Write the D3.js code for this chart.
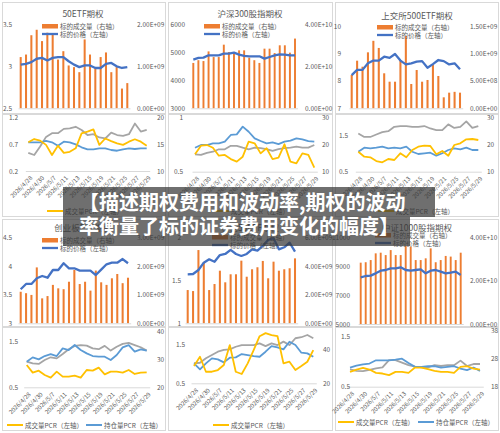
<!DOCTYPE html>
<html><head><meta charset="utf-8">
<script src="https://cdn.jsdelivr.net/npm/d3@7"></script>
<style>
body{margin:0;background:#fff;}
svg{display:block;font-family:"Noto Sans CJK SC","Noto Sans",sans-serif;}
</style></head>
<body><svg id="c" width="500" height="433"></svg>
<script>
const dates = ["2026/4/28","2026/4/29","2026/4/30","2026/5/6","2026/5/7","2026/5/8","2026/5/11","2026/5/12","2026/5/13","2026/5/14","2026/5/15","2026/5/18","2026/5/19","2026/5/20","2026/5/21","2026/5/22","2026/5/25","2026/5/26","2026/5/27","2026/5/28","2026/5/29"];
const titles = ["50ETF期权","沪深300股指期权","上交所500ETF期权","创业板ETF期权","科创50ETF期权","中证1000股指期权"];
const barLegend = ["标的成交量（右轴）","标的价格（左轴）"];
const lineLegend = ["成交量PCR（左轴）","持仓量PCR（左轴）","隐含波动率（右轴）"];
const overlayLines = ["【描述期权费用和波动率,期权的波动","率衡量了标的证券费用变化的幅度】"];

// 50ETF
const vol50 = [1.22e9,1.28e9,1.74e9,1.87e9,1.60e9,1.80e9,1.78e9,1.16e9,1.36e9,1.02e9,0.98e9,0.86e9,1.64e9,1.28e9,0.95e9,1.22e9,1.33e9,0.86e9,0.98e9,0.47e9,0.60e9];
const px50 = [3.02,3.03,3.05,3.09,3.10,3.07,3.10,3.11,3.11,3.06,3.02,2.99,3.01,3.01,2.98,2.98,3.03,3.04,3.00,2.98,2.99];
const cpcr50 = [0.74,0.80,0.77,0.69,0.50,0.675,0.54,0.56,0.625,0.905,0.94,0.98,0.69,0.81,0.76,0.72,0.69,0.75,0.795,0.75,0.675];
const opcr50 = [0.738,0.738,0.738,0.763,0.738,0.675,0.75,0.738,0.70,0.645,0.607,0.607,0.625,0.625,0.594,0.58,0.607,0.625,0.613,0.625,0.625];
const iv50 = [13.4,13.0,14.6,16.4,17.1,17.1,17.9,18.0,18.3,17.7,16.75,16.9,16.3,16.1,17.2,16.75,16.6,16.9,18.9,17.4,17.7];
// 沪深300
const volHS = [2.16e10,2.29e10,2.25e10,2.71e10,2.44e10,2.44e10,3.03e10,2.68e10,2.63e10,2.76e10,2.76e10,2.41e10,2.29e10,2.16e10,2.84e10,2.84e10,2.63e10,3.0e10,3.0e10,2.65e10,3.32e10];
const pxHS = [4738,4798,4810,4893,4893,4893,4952,4952,4988,4917,4869,4857,4857,4857,4774,4833,4893,4929,4917,4893,4893];
const cpcrHS = [0.661,0.741,0.747,0.722,0.648,0.655,0.617,0.593,0.639,0.778,0.763,0.67,0.717,0.617,0.63,0.754,0.593,0.578,0.67,0.655,0.537];
const opcrHS = [0.722,0.747,0.747,0.763,0.763,0.778,0.84,0.846,0.917,0.87,0.809,0.784,0.763,0.772,0.756,0.778,0.787,0.809,0.80,0.784,0.778];
const ivHS = [16.4,16.2,17.0,17.4,18.3,18.3,19.6,19.6,18.9,18.3,18.9,18.7,18.4,17.7,18.4,18.7,18.9,19.3,18.9,18.9,19.9];
// 500ETF
const vol500 = [0.607e9,0.868e9,0.758e9,1.02e9,1.23e9,1.10e9,0.638e9,0.485e9,0.485e9,0.88e9,1.32e9,0.443e9,0.698e9,0.485e9,0.516e9,0.789e9,0.589e9,0.20e9,0.285e9,0.30e9,0.285e9];
const px500 = [8.21,8.40,8.40,8.64,8.74,8.74,8.88,8.84,8.98,8.74,8.60,8.64,8.70,8.72,8.48,8.61,8.76,8.72,8.60,8.64,8.42];
const cpcr500 = [1.048,0.911,0.895,0.793,0.758,0.848,0.821,1.005,0.895,1.095,1.186,1.213,1.205,0.977,1.068,0.939,1.232,1.279,1.388,1.397,1.369];
const opcr500 = [1.048,1.158,1.14,1.158,1.186,1.14,1.158,1.14,1.186,1.048,0.985,1.005,1.021,0.939,1.005,1.095,1.14,1.114,1.158,1.095,1.095];
const iv500 = [24.0,22.7,22.7,23.6,24.5,24.8,26.4,26.7,26.7,26.4,26.4,26.7,25.8,25.2,25.2,27.3,26.0,26.4,28.4,26.0,26.7];
// 创业板
const volCY = [1.10e9,1.05e9,0.99e9,1.95e9,0.87e9,0.95e9,1.34e9,1.22e9,1.19e9,1.45e9,1.86e9,1.37e9,1.45e9,1.14e9,1.84e9,1.43e9,1.34e9,1.57e9,1.72e9,1.40e9,1.59e9];
const pxCY = [3.593,3.686,3.686,3.785,3.825,3.795,3.93,3.93,4.047,3.959,3.959,3.918,3.918,3.918,3.842,3.936,4.029,4.057,4.057,4.121,4.047];
const cpcrCY = [0.989,0.821,0.865,0.77,0.712,0.843,0.734,0.734,0.755,0.712,0.88,0.865,0.931,0.785,0.843,0.843,0.821,0.88,0.792,0.821,0.828];
const opcrCY = [1.062,1.157,1.113,1.186,1.23,1.186,1.354,1.318,1.427,1.318,1.245,1.186,1.172,1.172,1.099,1.208,1.376,1.427,1.281,1.332,1.303];
const ivCY = [29.2,28.6,28.4,29.8,30.8,30.4,32.0,33.7,34.9,35.2,35.0,34.0,33.7,34.9,33.2,34.6,35.6,36.0,35.2,34.4,33.2];
// 科创50
const volKC = [2.32e9,2.25e9,5.11e9,4.26e9,2.32e9,2.74e9,3.67e9,2.86e9,3.42e9,3.42e9,4.37e9,3.25e9,3.77e9,3.91e9,4.35e9,3.14e9,4.30e9,3.67e9,3.77e9,3.84e9,4.53e9];
const pxKC = [1.57,1.573,1.62,1.705,1.744,1.716,1.794,1.806,1.853,1.806,1.783,1.806,1.86,1.845,1.90,1.97,1.988,1.86,1.884,1.937,1.833];
const cpcrKC = [0.94,1.177,0.795,0.795,0.838,0.966,1.475,0.795,0.737,1.009,1.347,1.70,1.78,1.73,1.70,1.009,1.05,0.838,0.94,1.05,1.347];
const opcrKC = [1.009,0.856,1.009,1.136,1.11,1.034,1.153,1.16,1.246,1.22,1.195,1.177,1.305,1.45,1.416,1.365,1.559,1.475,1.28,1.263,1.177];
const ivKC = [31.8,32.1,34.7,36.6,38.6,39.6,40.0,41.5,42.5,42.5,42.5,43.5,41.9,43.5,42.5,44.5,42.5,46.5,47.1,48.4,46.5];
// 中证1000
const volZZ = [2.83e10,2.85e10,2.95e10,3.26e10,3.29e10,3.18e10,3.41e10,3.18e10,3.18e10,3.60e10,3.57e10,2.95e10,2.95e10,3.03e10,3.49e10,2.85e10,2.95e10,3.14e10,3.11e10,2.95e10,3.29e10];
const pxZZ = [8232,8322,8345,8506,8690,8737,8852,8852,8922,8737,8690,8737,8784,8506,8690,8737,8622,8506,8553,8622,8391];
const cpcrZZ = [0.796,0.842,0.875,0.842,0.776,0.763,0.73,0.796,0.796,0.776,0.882,0.882,0.849,0.816,0.796,0.796,0.776,0.895,0.908,0.862,0.842];
const opcrZZ = [0.882,0.921,0.947,0.961,1.026,1.026,1.026,1.039,1.059,0.974,0.895,0.895,0.908,0.908,0.882,0.895,0.908,0.862,0.829,0.882,0.816];
const ivZZ = [24.1,23.6,23.5,23.9,24.5,24.8,27.4,27.4,26.5,25.6,25.1,24.8,24.8,25.6,25.3,25.6,25.6,27.2,25.3,26.0,26.0];

const C = {orange:"#ED7D31", blue:"#4472C4", yellow:"#FFC000", lblue:"#5B9BD5", gray:"#A5A5A5", text:"#595959", border:"#d9d9d9"};
const svg = d3.select("#c");

function expFmt(v){const [m,e]=v.toExponential(2).split("e");return m+"E"+e[0]+e.slice(1).padStart(2,"0");}
function band(c0,c1,p){const step=(c1-c0)/(dates.length-1);return d3.scaleBand().domain(dates).range([c0-step/2,c1+step/2]).paddingInner(p).paddingOuter(p/2);}
function panel(b){svg.append("rect").attr("x",b[0]+0.5).attr("y",b[1]+0.5).attr("width",b[2]-b[0]).attr("height",b[3]-b[1]).attr("fill","#fff").attr("stroke",C.border);}
function axes(g,yl,yr,cfg,rfmt){
  const al=g.append("g").attr("transform",`translate(${cfg.lx},0)`).call(d3.axisLeft(yl).tickValues(cfg.lt).tickSize(0).tickPadding(0).tickFormat(d=>String(d)));
  const ar=g.append("g").attr("transform",`translate(${cfg.rx},0)`).call(d3.axisRight(yr).tickValues(cfg.rt).tickSize(0).tickPadding(0).tickFormat(rfmt));
  [al,ar].forEach(a=>{a.select(".domain").remove();a.selectAll("text").attr("fill",C.text).style("font-size","6.5px").style("font-family","'Noto Sans CJK SC',sans-serif");});
}

function barChart(cfg,title,vol,px){
  panel(cfg.box);
  const g=svg.append("g");
  const x=band(cfg.c[0],cfg.c[1],0.62);
  const yl=d3.scaleLinear().domain(cfg.ld).range(cfg.y);
  const yr=d3.scaleLinear().domain(cfg.rd).range(cfg.y);
  g.selectAll("rect.bar").data(vol).join("rect").attr("class","bar")
    .attr("x",(d,i)=>x(dates[i])).attr("width",x.bandwidth())
    .attr("y",d=>yr(d)).attr("height",d=>yr(0)-yr(d)).attr("fill",C.orange);
  const xa=g.append("g").attr("transform",`translate(0,${cfg.y[0]})`).call(d3.axisBottom(x).tickValues([]).tickSizeOuter(0));
  xa.select(".domain").attr("stroke",C.border);
  g.append("path").datum(px).attr("fill","none").attr("stroke",C.blue).attr("stroke-width",2.3).attr("stroke-linejoin","round")
    .attr("d",d3.line().x((d,i)=>x(dates[i])+x.bandwidth()/2).y(d=>yl(d)));
  axes(g,yl,yr,cfg,expFmt);
  g.append("text").attr("x",cfg.t[0]).attr("y",cfg.t[1]).attr("text-anchor","middle").attr("dominant-baseline","central")
    .attr("fill",C.text).style("font-size","8.5px").text(title);
  const lx=cfg.leg[0], ly=cfg.leg[1];
  g.append("rect").attr("x",lx).attr("y",ly-2).attr("width",16).attr("height",4.5).attr("fill",C.orange);
  g.append("text").attr("x",lx+18).attr("y",ly).attr("dominant-baseline","central").attr("fill",C.text).style("font-size","6.5px").text(barLegend[0]);
  g.append("line").attr("x1",lx).attr("x2",lx+16).attr("y1",ly+8).attr("y2",ly+8).attr("stroke",C.blue).attr("stroke-width",2.3);
  g.append("text").attr("x",lx+18).attr("y",ly+8).attr("dominant-baseline","central").attr("fill",C.text).style("font-size","6.5px").text(barLegend[1]);
}

function lineChart(cfg,cp,op,iv){
  panel(cfg.box);
  const g=svg.append("g");
  const x=band(cfg.c[0],cfg.c[1],0);
  const cx=d=>x(d)+x.bandwidth()/2;
  const yl=d3.scaleLinear().domain(cfg.ld).range(cfg.y);
  const yr=d3.scaleLinear().domain(cfg.rd).range(cfg.y);
  const xa=g.append("g").attr("transform",`translate(0,${cfg.y[0]})`)
    .call(d3.axisBottom(x).tickValues(dates.filter((d,i)=>i%2===0)).tickSize(0).tickSizeOuter(0));
  xa.select(".domain").attr("stroke",C.border);
  xa.selectAll("text").attr("y",0).attr("dy","0.35em").attr("transform","translate(3,6) rotate(-45)")
    .style("text-anchor","end").attr("fill",C.text).style("font-size","6px").style("font-family","'Noto Sans CJK SC',sans-serif");
  const ln=(ys)=>d3.line().x((d,i)=>cx(dates[i])).y(d=>ys(d));
  g.append("path").datum(iv).attr("fill","none").attr("stroke",C.gray).attr("stroke-width",1.8).attr("stroke-linejoin","round").attr("d",ln(yr));
  g.append("path").datum(op).attr("fill","none").attr("stroke",C.lblue).attr("stroke-width",1.8).attr("stroke-linejoin","round").attr("d",ln(yl));
  g.append("path").datum(cp).attr("fill","none").attr("stroke",C.yellow).attr("stroke-width",1.8).attr("stroke-linejoin","round").attr("d",ln(yl));
  axes(g,yl,yr,cfg,d=>String(d));
  const cols=[C.yellow,C.lblue];
  cfg.leg.forEach((p,i)=>{
    g.append("line").attr("x1",p[0]).attr("x2",p[0]+16).attr("y1",p[1]).attr("y2",p[1]).attr("stroke",cols[i]).attr("stroke-width",2);
    g.append("text").attr("x",p[0]+18).attr("y",p[1]).attr("dominant-baseline","central").attr("fill",C.text).style("font-size","6.5px").text(lineLegend[i]);
  });
}

const colB=[[2,165],[168,332],[335,498]];
barChart({box:[2,2,165,113],c:[20.7,127.3],y:[108.3,24.3],ld:[2.5,3.5],lt:[2.5,3,3.5],rd:[0,2e9],rt:[0,1e9,2e9],lx:12,rx:137,t:[83,13],leg:[42,26]},titles[0],vol50,px50);
barChart({box:[168,2,332,113],c:[193.3,295],y:[108.3,24.3],ld:[3000,6000],lt:[3000,4000,5000,6000],rd:[0,4e10],rt:[0,2e10,4e10],lx:185,rx:305,t:[250,13],leg:[204,26]},titles[1],volHS,pxHS);
barChart({box:[335,2,498,113],c:[351.7,460],y:[108.3,26],ld:[7,10],lt:[7,8,9,10],rd:[0,1.5e9],rt:[0,5e8,1e9,1.5e9],lx:341,rx:470,t:[417,15],leg:[377,27]},titles[2],vol500,px500);
barChart({box:[2,219,165,326],c:[20.7,128],y:[323.3,237.3],ld:[3,4.5],lt:[3,3.5,4,4.5],rd:[0,3e9],rt:[0,1e9,2e9,3e9],lx:12,rx:137,t:[83,227],leg:[42,240]},titles[3],volCY,pxCY);
barChart({box:[168,219,332,326],c:[187.7,295],y:[323.3,237.3],ld:[1,2],lt:[1,1.5,2],rd:[0,6e9],rt:[0,2e9,4e9,6e9],lx:181,rx:305,t:[250,227],leg:[212,237]},titles[4],volKC,pxKC);
barChart({box:[335,219,498,326],c:[360.7,460.7],y:[324,237.3],ld:[5000,11000],lt:[5000,7000,9000,11000],rd:[0,4e10],rt:[0,2e10,4e10],lx:350,rx:470,t:[417,227],leg:[375,235]},titles[5],volZZ,pxZZ);

lineChart({box:[2,114,165,216],c:[28.3,146.7],y:[171,117.7],ld:[0.2,1.2],lt:[0.2,0.7,1.2],rd:[10,20],rt:[10,15,20],lx:18,rx:157,leg:[[47,211]]},cpcr50,opcr50,iv50);
lineChart({box:[168,114,332,216],c:[195,314.3],y:[171.7,117.7],ld:[0.5,1],lt:[0.5,1],rd:[10,30],rt:[10,20,30],lx:183,rx:322,leg:[[213,211]]},cpcrHS,opcrHS,ivHS);
lineChart({box:[335,114,498,216],c:[358.3,478.3],y:[171.7,117],ld:[0.5,2],lt:[0.5,1.5],rd:[10,30],rt:[10,20,30],lx:348,rx:487,leg:[[378,211]]},cpcr500,opcr500,iv500);
lineChart({box:[2,327,165,430],c:[26.7,146.7],y:[387.3,331.7],ld:[0.5,1.72],lt:[0.5,1.5],rd:[20,40],rt:[20,30,40],lx:18,rx:157,leg:[[7,425],[86,425]]},cpcrCY,opcrCY,ivCY);
lineChart({box:[168,327,332,430],c:[194,313.3],y:[383.3,332.3],ld:[0.5,1.8],lt:[0.5,1.5],rd:[20,50],rt:[20,40],lx:185,rx:323,leg:[[213,425]]},cpcrKC,opcrKC,ivKC);
lineChart({box:[335,327,498,430],c:[350,480],y:[386.7,330],ld:[0.5,1.63],lt:[0.5,1.5],rd:[18,38],rt:[18,28,38],lx:350,rx:491,leg:[[338,422],[418,422]]},cpcrZZ,opcrZZ,ivZZ);

// overlay
const ov=svg.append("g");
ov.append("rect").attr("x",63).attr("y",187).attr("width",372).attr("height",30).attr("fill","rgba(55,55,55,0.72)");
ov.append("rect").attr("x",63).attr("y",217).attr("width",347).attr("height",29).attr("fill","rgba(55,55,55,0.72)");
overlayLines.forEach((t,i)=>ov.append("text").attr("x",79).attr("y",210+i*24).attr("fill","#fff")
  .style("font-size","20px").style("font-weight","bold").style("font-family","'Noto Sans CJK SC',sans-serif").text(t));
</script></body></html>
